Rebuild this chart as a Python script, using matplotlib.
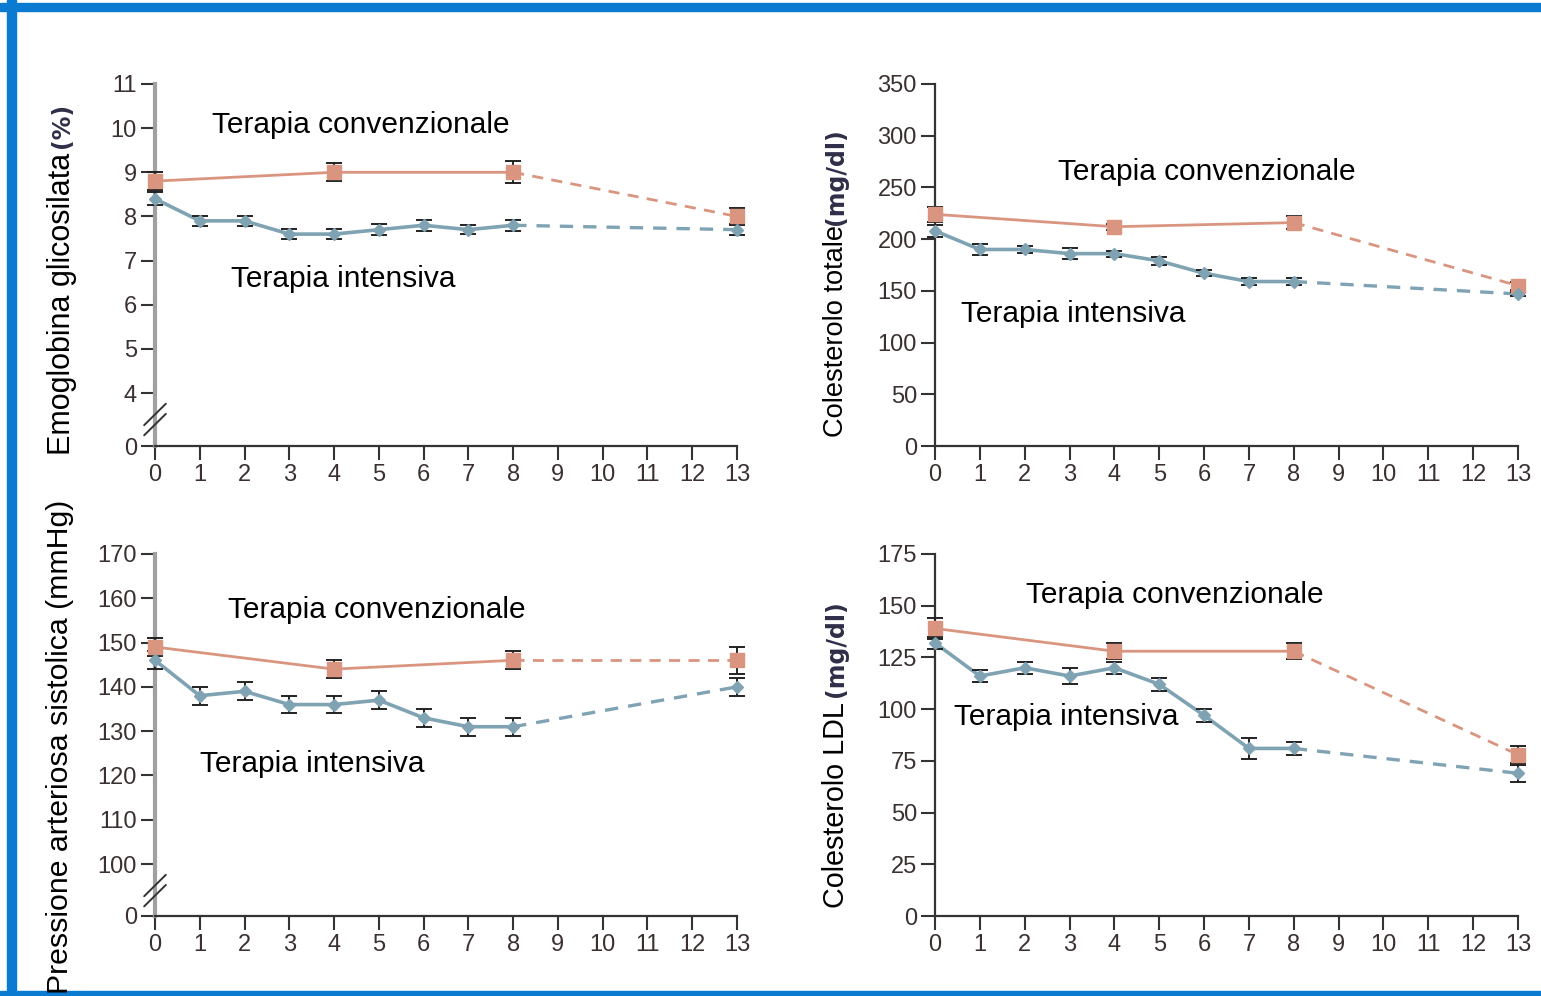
import matplotlib
matplotlib.use("Agg")
from matplotlib import pyplot as plt
from matplotlib.patches import Rectangle

plt.rcParams['font.family'] = ['Liberation Sans', 'DejaVu Sans']

# anni di follow-up
anni = [0, 1, 2, 3, 4, 5, 6, 7, 8, 13]
anni_conv = [0, 4, 8, 13]

# Emoglobina glicosilata (%)
hba1c_conv = [8.8, 9.0, 9.0, 8.0]
hba1c_conv_err = [0.2, 0.2, 0.25, 0.2]
hba1c_int = [8.4, 7.9, 7.9, 7.6, 7.6, 7.7, 7.8, 7.7, 7.8, 7.7]
hba1c_int_err = [0.15, 0.12, 0.12, 0.12, 0.12, 0.12, 0.12, 0.1, 0.12, 0.12]

# Colesterolo totale (mg/dl)
col_conv = [224, 212, 216, 155]
col_conv_err = [7, 3, 6, 4]
col_int = [208, 190, 190, 186, 186, 179, 167, 159, 159, 147]
col_int_err = [6, 5, 3, 5, 3, 4, 3, 3, 3, 2]

# Pressione arteriosa sistolica (mmHg)
pa_conv = [149, 144, 146, 146]
pa_conv_err = [2, 2, 2, 3]
pa_int = [146, 138, 139, 136, 136, 137, 133, 131, 131, 140]
pa_int_err = [2, 2, 2, 2, 2, 2, 2, 2, 2, 2]

# Colesterolo LDL (mg/dl)
ldl_conv = [139, 128, 128, 78]
ldl_conv_err = [5, 4, 4, 4]
ldl_int = [132, 116, 120, 116, 120, 112, 97, 81, 81, 69]
ldl_int_err = [3, 3, 3, 4, 3, 3, 3, 5, 3, 4]

ROSSO = '#d9957f'
BLU = '#7fa3b3'
TICK_FONT = ['Liberation Sans Narrow', 'Liberation Sans', 'DejaVu Sans']

W, H = 1541, 996
fig = plt.figure(figsize=(W / 100, H / 100), dpi=100)

# cornice blu
fig.patches.append(Rectangle((0, 1 - 11 / H), 1, 8 / H, transform=fig.transFigure,
                             color='#0a7bd0', zorder=0))
fig.patches.append(Rectangle((7 / W, 0), 9 / W, 1, transform=fig.transFigure,
                             color='#0a7bd0', zorder=0))
fig.patches.append(Rectangle((0, 0), 1, 5 / H, transform=fig.transFigure,
                             color='#0a7bd0', zorder=0))


def pannello(box, y_conv, e_conv, y_int, e_int, yticks, ylim, finto_zero=None,
             spina_grigia=False):
    l, r, t, b = box
    ax = fig.add_axes([l / W, 1 - b / H, (r - l) / W, (b - t) / H])
    ax.set_xlim(0, 13)
    ax.set_ylim(*ylim)

    # tratti continui fino a 8 anni, tratteggio fino a 13
    ax.plot(anni_conv[:3], y_conv[:3], color=ROSSO, lw=2, zorder=2)
    ax.plot(anni_conv[2:], y_conv[2:], color=ROSSO, lw=2, ls=(0, (4, 3)), zorder=2)
    ax.plot(anni[:9], y_int[:9], color=BLU, lw=2.6, zorder=2)
    ax.plot(anni[8:], y_int[8:], color=BLU, lw=2.4, ls=(0, (4, 3)), zorder=2)

    ax.errorbar(anni_conv, y_conv, yerr=e_conv, fmt='none', ecolor='#222222',
                elinewidth=1.4, capsize=6, capthick=1.4, zorder=3, clip_on=False)
    ax.errorbar(anni, y_int, yerr=e_int, fmt='none', ecolor='#222222',
                elinewidth=1.4, capsize=6, capthick=1.4, zorder=3, clip_on=False)
    ax.plot(anni_conv, y_conv, 's', color=ROSSO, ms=10, zorder=4, clip_on=False)
    ax.plot(anni, y_int, 'D', color=BLU, ms=6, zorder=4, clip_on=False)

    for s in ['top', 'right']:
        ax.spines[s].set_visible(False)
    ax.spines['bottom'].set_color('#333333')
    ax.spines['bottom'].set_linewidth(1.6)
    if spina_grigia:
        ax.spines['left'].set_color('#a0a0a0')
        ax.spines['left'].set_linewidth(3)
    else:
        ax.spines['left'].set_color('#333333')
        ax.spines['left'].set_linewidth(1.6)

    ticks = list(yticks)
    labels = [str(v) for v in yticks]
    if finto_zero is not None:
        ticks = [finto_zero] + ticks
        labels = ['0'] + labels
    ax.set_yticks(ticks)
    ax.set_yticklabels(labels)
    ax.set_xticks(range(14))
    ax.tick_params(direction='out', length=10, width=1.5, color='#333333',
                   labelcolor='#3a3030', labelsize=17, pad=3)
    for lab in ax.get_xticklabels() + ax.get_yticklabels():
        lab.set_family(TICK_FONT)
    return ax


def rottura(ax, yv):
    # doppia barra obliqua sull'asse interrotto
    y0, y1 = ax.get_ylim()
    yf = (yv - y0) / (y1 - y0)
    for off in (-0.014, 0.014):
        ax.annotate('', xy=(0.022, yf + off + 0.035),
                    xytext=(-0.022, yf + off - 0.035),
                    xycoords='axes fraction',
                    arrowprops=dict(arrowstyle='-', color='#333333', lw=1.4),
                    annotation_clip=False)


def etichette(ax, xc, yc, xi, yi):
    ax.text(xc, yc, 'Terapia convenzionale', fontsize=21.5, va='center', ha='left')
    ax.text(xi, yi, 'Terapia intensiva', fontsize=21.5, va='center', ha='left')


def ylabel(x, y_basso, testo, size, y_unita=None, unita=None):
    fig.text(x / W, 1 - y_basso / H, testo, rotation=90, fontsize=size,
             ha='center', va='bottom')
    if unita:
        fig.text(x / W, 1 - y_unita / H, unita, rotation=90, fontsize=17,
                 fontweight='bold', color='#2e2e48', family='DejaVu Sans',
                 ha='center', va='bottom')


# Emoglobina glicosilata
ax1 = pannello((155, 737, 84, 446), hba1c_conv, hba1c_conv_err, hba1c_int,
               hba1c_int_err, range(4, 12), (2.8, 11), finto_zero=2.8,
               spina_grigia=True)
rottura(ax1, 3.4)
etichette(ax1, 1.27, 10.07, 1.70, 6.58)
ylabel(62, 455, 'Emoglobina glicosilata', 22, 148, '(%)')

# Colesterolo totale
ax2 = pannello((935, 1518, 84, 446), col_conv, col_conv_err, col_int,
               col_int_err, range(0, 351, 50), (0, 350))
etichette(ax2, 2.74, 265, 0.58, 128)
ylabel(836, 437, 'Colesterolo totale', 19.6, 225, '(mg/dl)')

# Pressione arteriosa sistolica
ax3 = pannello((155, 737, 554, 916), pa_conv, pa_conv_err, pa_int,
               pa_int_err, range(100, 171, 10), (88.26, 170), finto_zero=88.26,
               spina_grigia=True)
rottura(ax3, 94.0)
etichette(ax3, 1.63, 157.3, 1.0, 122.6)
fig.text(60 / W, 1 - 500 / H, 'Pressione arteriosa sistolica (mmHg)', rotation=90,
         fontsize=21.8, ha='center', va='top')

# Colesterolo LDL
ax4 = pannello((935, 1518, 554, 916), ldl_conv, ldl_conv_err, ldl_int,
               ldl_int_err, range(0, 176, 25), (0, 175))
etichette(ax4, 2.03, 155, 0.42, 96)
ylabel(836, 908, 'Colesterolo LDL', 20.7, 697, '(mg/dl)')

fig.savefig('out.png', dpi=100)
